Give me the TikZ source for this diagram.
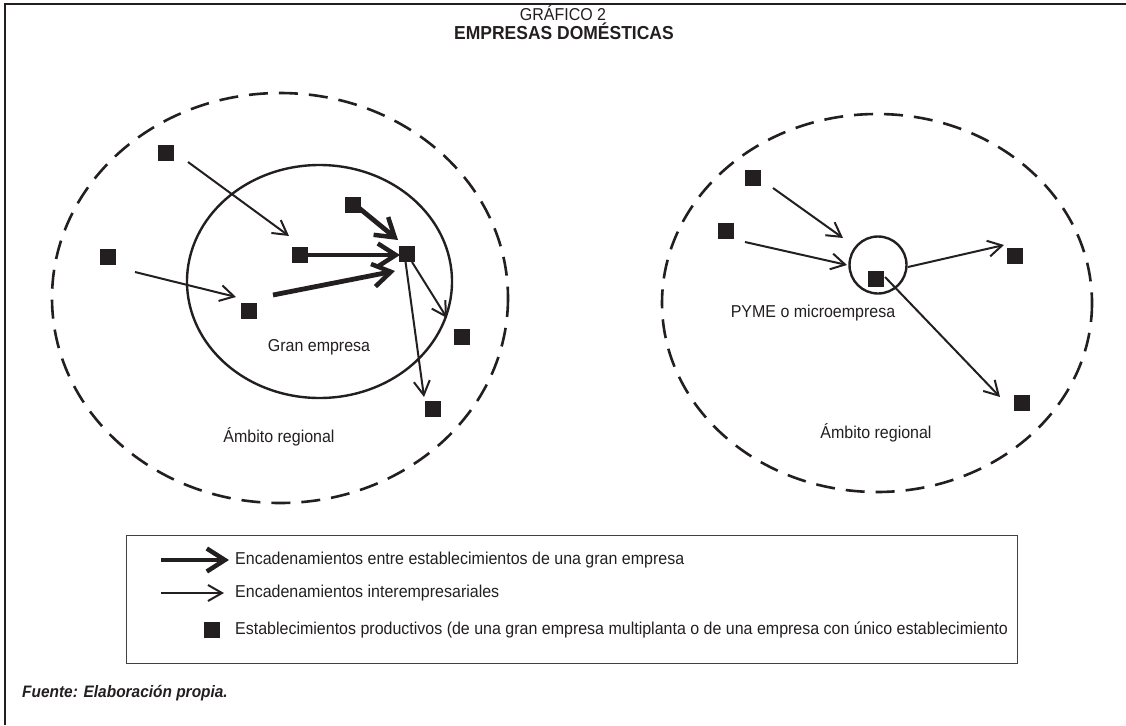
\documentclass[tikz,border=0pt]{standalone}
\usepackage{fontspec}
\setmainfont[FakeStretch=0.93]{Liberation Sans}
\usetikzlibrary{arrows.meta}
\definecolor{ink}{HTML}{231F20}
\tikzset{
  sq/.style={fill=ink, draw=none, minimum size=16pt, inner sep=0pt},
  lbl/.style={text=ink, inner sep=0pt, font=\fontsize{17.2}{20}\selectfont},
  thinarr/.style={draw=ink, line width=2pt, -{Straight Barb[length=14pt,width=16pt,line width=2pt]}},
  thickarr/.style={draw=ink, line width=4.8pt, -{Straight Barb[length=18pt,width=23pt,line width=4.5pt]}},
  region/.style={draw=ink, line width=2.6pt, dash pattern=on 19pt off 11pt},
  firm/.style={draw=ink, line width=2.4pt},
}
\begin{document}
\begin{tikzpicture}[x=1pt, y=-1pt]
\useasboundingbox (0,0) rectangle (1126,725);
% frame (top and left only)
\draw[line width=2pt, ink] (4.5,725) -- (4.5,4.5) -- (1126,4.5);
% title
\node[lbl] (t1) at (563,13) {GRÁFICO 2};
\node[lbl, font=\fontsize{18.8}{22}\selectfont\bfseries] (t2) at (564,31) {EMPRESAS DOMÉSTICAS};

% left diagram
\draw[region] (280,298) ellipse [x radius=228, y radius=205];
\draw[firm] (319.5,281.5) ellipse [x radius=132.5, y radius=116.5];
\node[sq] (A) at (166,153) {};
\node[sq] (B) at (108,257) {};
\node[sq] (C) at (300,255) {};
\node[sq] (D) at (353,205) {};
\node[sq] (E) at (407,254) {};
\node[sq] (F) at (249,311) {};
\node[sq] (G) at (462,337) {};
\node[sq] (H) at (433,409) {};
\node[lbl] (ge) at (319,347) {Gran empresa};
\node[lbl] (ar1) at (279,437) {Ámbito regional};

\draw[thinarr] ([shift={(22,9)}]A.center) -- ([shift={(-11,-19)}]C.center);
\draw[thinarr] ([shift={(27,15)}]B.center) -- ([shift={(-13,-14)}]F.center);
\draw[thickarr] (C.east) -- ([shift={(-7,1)}]E.center);
\draw[thickarr] ([shift={(24,-16)}]F.center) -- ([shift={(-12,17)}]E.center);
\draw[thickarr] ([shift={(6,3)}]D.center) -- ([shift={(-9,-14)}]E.center);
\draw[thinarr] ([shift={(5,8)}]E.center) -- ([shift={(-15,-19)}]G.center);
\draw[thinarr] ([shift={(-2,4)}]E.center) -- ([shift={(-9,-12)}]H.center);

% right diagram
\draw[region] (877,303) ellipse [x radius=215, y radius=189];
\node[firm, circle, minimum size=57pt, inner sep=0pt] (P) at (878,265) {};
\node[sq] (S1) at (753,178) {};
\node[sq] (S2) at (726,231) {};
\node[sq] (M) at (876,279) {};
\node[sq] (S4) at (1015,256) {};
\node[sq] (S5) at (1022,403) {};
\node[lbl] (pm) at (813,313) {PYME o microempresa};
\node[lbl] (ar2) at (876,433) {Ámbito regional};

\draw[thinarr] ([shift={(20,10)}]S1.center) -- ([shift={(-35,-27)}]P.center);
\draw[thinarr] ([shift={(19,11)}]S2.center) -- ([shift={(-31,0)}]P.center);
\draw[thinarr] ([shift={(30,2)}]P.center) -- ([shift={(-11,-11)}]S4.center);
\draw[thinarr] ([shift={(9,-2)}]M.center) -- ([shift={(-22,-6)}]S5.center);

% legend
\node[draw=ink!85, line width=1.4pt, minimum width=891pt, minimum height=128pt, inner sep=0pt, anchor=north west] (leg) at (126,535) {};
\coordinate (l1a) at (161,560);
\coordinate (l1b) at (229,560);
\coordinate (l2a) at (161,593);
\coordinate (l2b) at (224,593);
\draw[thickarr] (l1a) -- (l1b);
\draw[thinarr] (l2a) -- (l2b);
\node[sq] (lsq) at (212,630) {};
\node[lbl, anchor=west] (lt1) at (235,560) {Encadenamientos entre establecimientos de una gran empresa};
\node[lbl, anchor=west] (lt2) at (235,593) {Encadenamientos interempresariales};
\node[lbl, anchor=west] (lt3) at (235,630) {Establecimientos productivos (de una gran empresa multiplanta o de una empresa con único establecimiento};

% source
\node[lbl, anchor=west, font=\fontsize{16.6}{20}\selectfont\bfseries\itshape] (src) at (22,693) {Fuente: Elaboración propia.};
\end{tikzpicture}
\end{document}
